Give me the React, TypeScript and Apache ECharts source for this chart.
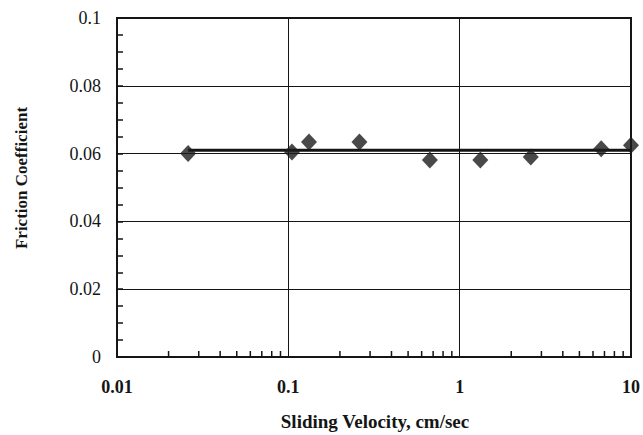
import React, { useEffect, useRef } from "react";
import * as echarts from "echarts";

// Measured friction coefficient at each sliding velocity (cm/sec)
const velocities = [0.026, 0.105, 0.132, 0.26, 0.67, 1.32, 2.6, 6.7, 10];
const friction = [0.06, 0.0605, 0.0634, 0.0634, 0.0581, 0.0581, 0.059, 0.0614, 0.0625];

// Average level drawn across the measured range
const meanFriction = 0.061;
const meanRange = [0.026, 10];

// Axis tick labels and titles
const xTickLabels = ["0.01", "0.1", "1", "10"];
const yTickLabels = ["0", "0.02", "0.04", "0.06", "0.08", "0.1"];
const xTitle = "Sliding Velocity, cm/sec";
const yTitle = "Friction Coefficient";

// Minor ticks of the logarithmic velocity axis (2..9 within each decade)
const xMinorTicks = [
  0.02, 0.03, 0.04, 0.05, 0.06, 0.07, 0.08, 0.09,
  0.2, 0.3, 0.4, 0.5, 0.6, 0.7, 0.8, 0.9,
  2, 3, 4, 5, 6, 7, 8, 9,
];

const FONT = "'Liberation Serif', 'Times New Roman', serif";
const INK = "#151515";

export default function App() {
  const ref = useRef<HTMLDivElement>(null);

  useEffect(() => {
    document.body.style.margin = "0";
    if (!ref.current) return;
    const chart = echarts.init(ref.current, null, { renderer: "svg" });

    chart.setOption({
      animation: false,
      backgroundColor: "#ffffff",
      grid: {
        left: 117,
        right: 8,
        top: 18,
        bottom: 78,
        show: true,
        borderColor: INK,
        borderWidth: 2,
      },
      graphic: [
        {
          type: "text",
          x: 375,
          y: 421,
          style: {
            text: xTitle,
            fontFamily: FONT,
            fontWeight: "bold",
            fontSize: 19,
            fill: INK,
            textAlign: "center",
            textVerticalAlign: "middle",
          },
        },
        {
          type: "text",
          x: 21,
          y: 178,
          rotation: Math.PI / 2,
          style: {
            text: yTitle,
            fontFamily: FONT,
            fontWeight: "bold",
            fontSize: 17,
            fill: INK,
            textAlign: "center",
            textVerticalAlign: "middle",
          },
        },
      ],
      xAxis: {
        type: "log",
        logBase: 10,
        min: 0.01,
        max: 10,
        axisLine: { show: true, lineStyle: { color: INK, width: 2 } },
        axisTick: { show: false },
        splitLine: { show: true, lineStyle: { color: INK, width: 1 } },
        axisLabel: {
          margin: 21,
          fontFamily: FONT,
          fontWeight: "bold",
          fontSize: 18,
          color: INK,
          formatter: (v: number) => {
            const i = Math.round(Math.log10(v) + 2);
            return xTickLabels[i] ?? "";
          },
        },
      },
      yAxis: {
        type: "value",
        min: 0,
        max: 0.1,
        interval: 0.02,
        axisLine: { show: true, lineStyle: { color: INK, width: 2 } },
        axisTick: { show: true, inside: true, length: 6, lineStyle: { color: INK, width: 1.5 } },
        minorTick: { show: true, splitNumber: 4, length: 6, lineStyle: { color: INK, width: 1.5 } },
        splitLine: { show: true, lineStyle: { color: INK, width: 1 } },
        axisLabel: {
          margin: 16,
          fontFamily: FONT,
          fontSize: 18,
          color: INK,
          formatter: (v: number) => yTickLabels[Math.round(v / 0.02)] ?? "",
        },
      },
      series: [
        {
          type: "custom",
          silent: true,
          clip: false,
          data: xMinorTicks.map((v) => [v, 0]),
          renderItem: (_params: any, api: any) => {
            const p = api.coord([api.value(0), 0]);
            return {
              type: "line",
              shape: { x1: p[0], y1: p[1], x2: p[0], y2: p[1] - 6 },
              style: { stroke: INK, lineWidth: 1.5 },
            };
          },
          z: 3,
        },
        {
          type: "line",
          silent: true,
          symbol: "none",
          data: meanRange.map((x) => [x, meanFriction]),
          lineStyle: { color: INK, width: 3 },
          z: 4,
        },
        {
          type: "scatter",
          symbol: "diamond",
          symbolSize: [16, 17],
          data: velocities.map((v, i) => [v, friction[i]]),
          itemStyle: { color: "#1c1c1c" },
          clip: false,
          z: 5,
        },
      ],
    });

    return () => chart.dispose();
  }, []);

  return <div ref={ref} style={{ width: 643, height: 435 }} />;
}
